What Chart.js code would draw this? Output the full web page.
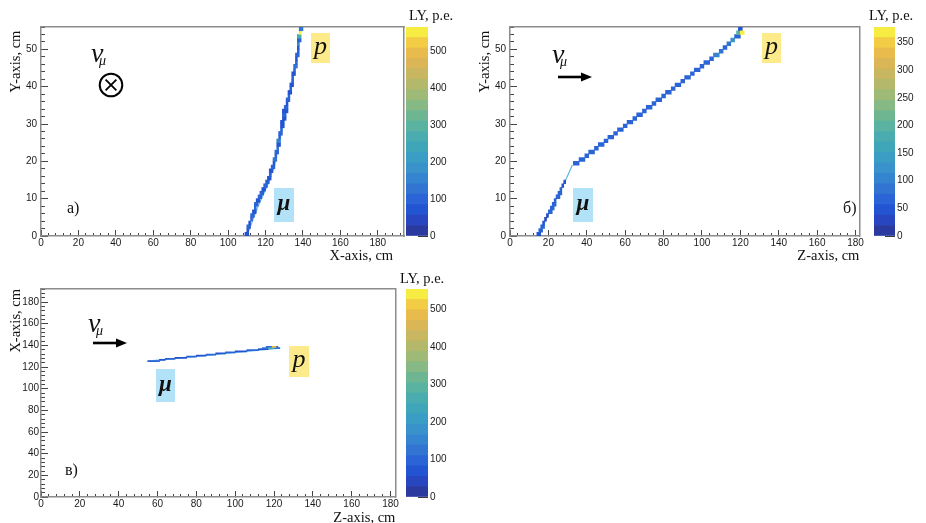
<!DOCTYPE html>
<html>
<head>
<meta charset="utf-8">
<script src="https://cdn.jsdelivr.net/npm/chart.js@4.4.0/dist/chart.umd.min.js"></script>
<style>
body { margin: 0; background: #fff; }
#wrap { position: relative; width: 926px; height: 523px; overflow: hidden; background: #fff; }
canvas { position: absolute; }
.t { position: absolute; font-family: "Liberation Serif", "Times New Roman", serif; color: #111; white-space: nowrap; line-height: 1; }
.box { position: absolute; }
svg { position: absolute; }
</style>
</head>
<body>
<div id="wrap"></div>
<script>
// kBird palette, 20 contours
var palette = ['#2b3a9e','#2846bf','#2354d2','#2a64d6','#3174d2','#3584cf','#3992ca','#3a9ec4','#3fa6ba','#4aacae',
               '#5ab2a0','#6eb692','#86b984','#9eba76','#b4b86a','#c8b660','#dab656','#e8bb4c','#f2cc44','#f6ec42'];

// а) Y vs X : one row per 1 cm in Y, cells from x0 to x1 (cm), light yield in p.e.
var aRowY = [0,1,2,3,4,5,6,7,8,9,10,11,12,13,14,15,16,17,18,19,20,21,22,23,24,25,26,27,28,29,
             30,31,32,33,34,35,36,37,38,39,40,41,42,43,44,45,46,47,48,49,50,51,52,53,54,55];
var aX0 = [109,110,110,111,112,112,113,114,114,115,116,117,118,119,120,121,122,122,123,124,
           124,125,125,126,126,126,127,127,128,128,128,129,129,129,130,131,131,132,132,133,
           133,134,134,134,135,135,136,136,136,137,137,137,137,137,138,138];
var aX1 = [111,111,112,112,113,114,115,115,116,117,118,119,120,121,122,123,123,124,125,125,
           126,126,127,127,128,128,128,129,129,130,130,131,131,132,132,132,133,133,134,134,
           135,135,135,136,136,137,137,137,138,138,138,138,139,139,139,140];
var aLY = [60,80,90,70,100,90,60,110,100,80,90,110,70,100,90,60,100,80,110,70,
           120,90,100,130,80,150,90,100,110,80,70,60,90,70,100,80,110,90,80,100,
           70,110,90,80,100,120,90,70,100,110,80,150,90,260,540,120];
var aPathX = [110,116,121,124.5,127,129,131,133.5,136,138,139];
var aPathY = [0,8,13.5,18.5,24,29,34,40,46,52,56];

// б) Y vs Z
var bRowY = [0,1,2,3,4,5,6,7,8,9,10,11,12,13,14,
             19,20,21,22,23,24,25,26,27,28,29,30,31,32,33,34,35,36,37,38,
             39,40,41,42,43,44,45,46,47,48,49,50,51,52,53,54,55,54];
var bZ0 = [14,15,16,17,18,19,20,21,22,23,24,25,26,27,28,
           33,36,39,41,44,46,49,51,54,56,59,61,64,66,69,71,74,76,79,81,
           84,86,89,91,94,96,99,101,104,106,109,111,113,115,117,118,119,120];
var bZ1 = [16,17,18,18,19,20,22,23,24,24,26,27,27,28,29,
           36,39,41,44,46,49,51,54,56,59,61,64,66,69,71,74,76,79,81,84,
           86,89,91,94,96,99,101,104,106,109,111,113,115,117,120,120,121,122];
var bLY = [45,70,60,50,30,30,60,70,65,60,70,65,60,55,40,
           60,70,65,70,60,70,65,70,60,70,65,60,70,65,60,70,65,70,60,70,
           65,60,70,65,70,60,70,65,60,110,80,70,90,120,60,190,50,370];
var bPathZ = [14.5,23,29,32.5];
var bPathY = [0,9,15,19];

// в) X vs Z
var cRowX = [125,126,127,128,129,130,131,132,133,134,135,136,137,138,137,138];
var cZ0 = [55,61,64,69,75,80,85,90,95,100,106,112,114,116,117,119];
var cZ1 = [61,64,69,75,80,85,90,95,100,106,112,117,123,122,120,121];
var cLY = [90,60,100,80,90,70,100,80,90,70,100,80,120,90,250,480];
var cPathZ = [55,123];
var cPathX = [125.5,137.5];

// colour-bar ranges (p.e.) and tick steps
var lyMax = [567, 378, 554];
var lyStep = [100, 50, 100];

var wrap = document.getElementById('wrap');
var tickFont = {family: '"Liberation Sans", Arial, sans-serif', size: 10};
var titleFont = {family: '"Liberation Serif", "Times New Roman", serif', size: 14.5};

function lyColor(v, max) {
  var i = Math.floor(v / max * palette.length);
  return palette[Math.max(0, Math.min(palette.length - 1, i))];
}

function addCanvas(l, t, w, h) {
  var cv = document.createElement('canvas');
  cv.width = w; cv.height = h;
  cv.style.left = l + 'px'; cv.style.top = t + 'px';
  cv.style.width = w + 'px'; cv.style.height = h + 'px';
  wrap.appendChild(cv);
  return cv;
}

function linAxis(pos, max, extra) {
  var a = {type: 'linear', position: pos, min: 0, max: max, offset: false, beginAtZero: false};
  for (var k in extra) a[k] = extra[k];
  a.grid = Object.assign({offset: false}, a.grid || {});
  return a;
}

function drawPanel(p) {
  var cv = addCanvas(p.left, p.top, p.w, p.h);
  var plotH = p.h - p.padTop - p.axisH;
  var rowPx = plotH / p.ymax;
  var cells = p.rows.map(function (r, i) { return {y: r + 0.5, x: [p.lo[i], p.hi[i]]}; });
  var path = p.pathH.map(function (h, i) { return {x: h, y: p.pathV[i]}; });
  var frame = {color: '#8c8c8c', width: 1.5};
  new Chart(cv, {
    type: 'scatter',
    data: {datasets: [
      {type: 'bar', indexAxis: 'y', data: cells, xAxisID: 'x', yAxisID: 'y', order: 0,
       backgroundColor: p.ly.map(function (v) { return lyColor(v, p.lymax); }),
       barThickness: rowPx, borderWidth: 0},
      {type: 'line', data: path, xAxisID: 'x', yAxisID: 'y', order: 1,
       borderColor: '#5fb6e0', borderWidth: 1.2, pointRadius: 0, fill: false}
    ]},
    options: {
      responsive: false, animation: false, events: [],
      plugins: {legend: {display: false}, tooltip: {enabled: false}},
      layout: {padding: {left: 0, top: p.padTop, right: 2, bottom: 0}},
      scales: {
        x: linAxis('bottom', p.xmax, {weight: 1,
          ticks: {stepSize: p.xstep, includeBounds: false, autoSkip: false, maxRotation: 0, font: tickFont, color: '#1a1a1a', padding: 7},
          grid: {drawOnChartArea: false, tickLength: -6, color: '#444'},
          border: frame,
          title: {display: true, text: p.xtitle, align: 'end', font: titleFont, color: '#111', padding: {top: 0, bottom: p.xtPad}},
          afterFit: function (s) { s.height = p.axisH; }}),
        xm: linAxis('bottom', p.xmax, {weight: 0,
          ticks: {display: false, stepSize: p.xstep / 5, includeBounds: false, autoSkip: false},
          grid: {drawOnChartArea: false, tickLength: -3, color: '#444'},
          border: {display: false},
          afterFit: function (s) { s.height = 0; }}),
        xt: linAxis('top', p.xmax, {ticks: {display: false}, grid: {display: false}, border: frame,
          afterFit: function (s) { s.height = 0; }}),
        y: linAxis('left', p.ymax, {weight: 1,
          ticks: {stepSize: p.ystep, includeBounds: false, autoSkip: false, font: tickFont, color: '#1a1a1a', padding: p.ylPad},
          grid: {drawOnChartArea: false, tickLength: -7, color: '#444'},
          border: frame,
          title: {display: true, text: p.ytitle, align: 'end', font: titleFont, color: '#111', padding: {top: 7, bottom: 0}},
          afterFit: function (s) { s.width = 41; }}),
        ym: linAxis('left', p.ymax, {weight: 0,
          ticks: {display: false, stepSize: p.ystep / 5, includeBounds: false, autoSkip: false},
          grid: {drawOnChartArea: false, tickLength: -4, color: '#444'},
          border: {display: false},
          afterFit: function (s) { s.width = 0; }}),
        yr: linAxis('right', p.ymax, {ticks: {display: false}, grid: {display: false}, border: frame,
          afterFit: function (s) { s.width = 0; }})
      }
    }
  });
}

function drawScale(p) {
  var cv = addCanvas(p.left, p.top, p.w, p.h);
  var sets = palette.map(function (c) {
    return {data: [p.max / palette.length], backgroundColor: c, borderWidth: 0, barPercentage: 1, categoryPercentage: 1};
  });
  new Chart(cv, {
    type: 'bar',
    data: {labels: [''], datasets: sets},
    options: {
      responsive: false, animation: false, events: [],
      plugins: {legend: {display: false}, tooltip: {enabled: false}},
      layout: {padding: {left: 2, top: p.padTop, right: 0, bottom: p.padBottom}},
      scales: {
        x: {display: false, stacked: true},
        y: {position: 'right', stacked: true, min: 0, max: p.max,
            ticks: {stepSize: p.step, includeBounds: false, font: tickFont, color: '#1a1a1a', padding: 12},
            grid: {drawOnChartArea: false, tickLength: -10, color: '#3a3a3a'},
            border: {display: false},
            afterFit: function (s) { s.width = p.axisW; }}
      }
    }
  });
}

drawPanel({left: 0, top: 0, w: 406, h: 265, padTop: 27, axisH: 29, xmax: 194, ymax: 56, xstep: 20, ystep: 10,
  xtitle: 'X-axis, cm   ', ytitle: 'Y-axis, cm ', xtPad: 0, ylPad: 11,
  rows: aRowY, lo: aX0, hi: aX1, ly: aLY, lymax: lyMax[0], pathH: aPathX, pathV: aPathY});
drawScale({left: 404, top: 0, w: 56, h: 265, padTop: 27, padBottom: 29, axisW: 32, max: lyMax[0], step: lyStep[0]});

drawPanel({left: 469, top: 0, w: 402, h: 265, padTop: 27, axisH: 29, xmax: 182, ymax: 56, xstep: 20, ystep: 10,
  xtitle: 'Z-axis, cm', ytitle: 'Y-axis, cm ', xtPad: 0, ylPad: 11,
  rows: bRowY, lo: bZ0, hi: bZ1, ly: bLY, lymax: lyMax[1], pathH: bPathZ, pathV: bPathY});
drawScale({left: 872, top: 0, w: 54, h: 265, padTop: 27, padBottom: 29, axisW: 31, max: lyMax[1], step: lyStep[1]});

drawPanel({left: 0, top: 262, w: 406, h: 261, padTop: 27, axisH: 26, xmax: 182.5, ymax: 192, xstep: 20, ystep: 20,
  xtitle: 'Z-axis, cm', ytitle: 'X-axis, cm', xtPad: -3.5, ylPad: 9,
  rows: cRowX, lo: cZ0, hi: cZ1, ly: cLY, lymax: lyMax[2], pathH: cPathZ, pathV: cPathX});
drawScale({left: 404, top: 262, w: 56, h: 261, padTop: 27, padBottom: 26, axisW: 32, max: lyMax[2], step: lyStep[2]});

// annotations
function note(x, y, html, css) {
  var d = document.createElement('div');
  d.className = 't';
  d.style.left = x + 'px'; d.style.top = y + 'px';
  d.innerHTML = html;
  if (css) d.style.cssText += css;
  wrap.appendChild(d);
}
function box(x, y, w, h, color) {
  var d = document.createElement('div');
  d.className = 'box';
  d.style.cssText = 'left:' + x + 'px;top:' + y + 'px;width:' + w + 'px;height:' + h + 'px;background:' + color + ';';
  wrap.appendChild(d);
}
function arrow(x, y) {
  wrap.insertAdjacentHTML('beforeend',
    '<svg width="40" height="14" style="left:' + x + 'px;top:' + (y - 7) + 'px">' +
    '<line x1="2" y1="7" x2="27" y2="7" stroke="#000" stroke-width="2.6"/>' +
    '<polygon points="25,2.5 36,7 25,11.5" fill="#000"/></svg>');
}
function nuMu(x, y) {
  note(x, y - 3, '\u03bd', 'font-size:28px;font-style:italic;');
  note(x + 8, y + 12, '\u03bc', 'font-size:14px;font-style:italic;');
}
function labelP(x, y, w, h) {
  box(x, y, w, h, '#fdea8a');
  note(x, y + 0.2, 'p', 'font-size:26px;font-style:italic;width:' + w + 'px;text-align:center;');
}
function labelMu(x, y, w, h) {
  box(x, y, w, h, '#b2e2f8');
  note(x, y + 3.3, '\u03bc', 'font-size:23px;font-style:italic;font-weight:bold;width:' + w + 'px;text-align:center;');
}

// а)
nuMu(91, 42.4);
wrap.insertAdjacentHTML('beforeend',
  '<svg width="28" height="28" style="left:97px;top:71px"><circle cx="14" cy="14" r="11.3" fill="none" stroke="#000" stroke-width="2"/>' +
  '<line x1="8.6" y1="8.6" x2="19.4" y2="19.4" stroke="#000" stroke-width="1.8"/><line x1="19.4" y1="8.6" x2="8.6" y2="19.4" stroke="#000" stroke-width="1.8"/></svg>');
labelP(311, 33, 19, 30);
labelMu(274, 188, 20, 34);
note(67, 200, '\u0430)', 'font-size:16px;');

// б)
nuMu(552, 42.9);
arrow(556, 76.7);
labelP(762, 33, 19, 30);
labelMu(573, 188, 20, 34);
note(843, 199.6, '\u0431)', 'font-size:16px;');

// в)
nuMu(88, 312);
arrow(91, 342.7);
labelP(289, 346, 20, 31);
labelMu(156, 369, 19, 33);
note(65, 461.6, '\u0432)', 'font-size:16px;');

// colour-bar titles
note(409, 7.9, 'LY, p.e.', 'font-size:14.5px;');
note(869, 7.9, 'LY, p.e.', 'font-size:14.5px;');
note(400, 270.9, 'LY, p.e.', 'font-size:14.5px;');
</script>
</body>
</html>
